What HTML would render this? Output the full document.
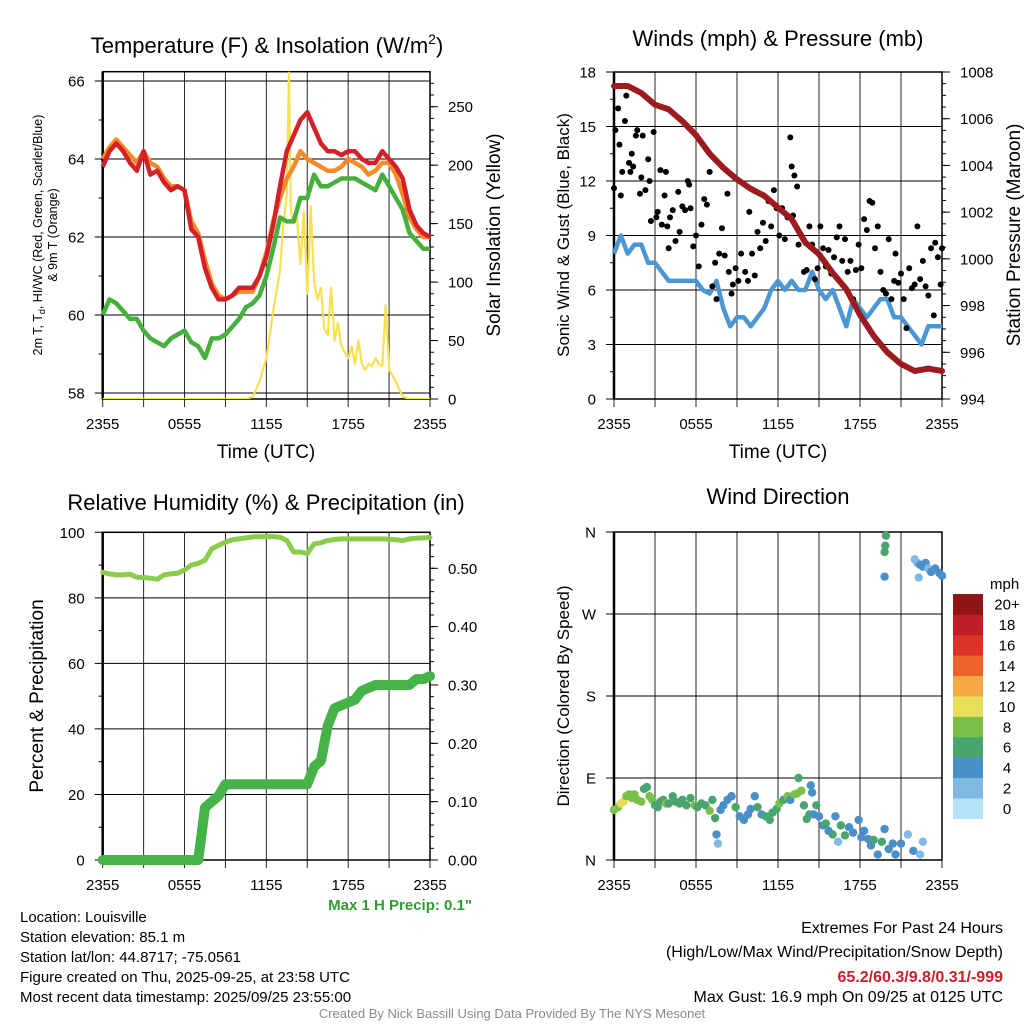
<!DOCTYPE html>
<html><head><meta charset="utf-8">
<style>
html,body{margin:0;padding:0;background:#fff;}
svg{display:block;font-family:"Liberation Sans",Arial,sans-serif;}
</style></head>
<body>
<svg id="chart" width="1024" height="1024" viewBox="0 0 1024 1024" xmlns="http://www.w3.org/2000/svg">
<rect x="0" y="0" width="1024" height="1024" fill="#fff"/>
<text x="267" y="53" font-size="22" text-anchor="middle">Temperature (F) &amp; Insolation (W/m<tspan font-size="14" dy="-9">2</tspan><tspan dy="9">)</tspan></text>
<text x="778" y="46" font-size="22" text-anchor="middle">Winds (mph) &amp; Pressure (mb)</text>
<text x="266" y="510" font-size="22" text-anchor="middle">Relative Humidity (%) &amp; Precipitation (in)</text>
<text x="778" y="504" font-size="22" text-anchor="middle">Wind Direction</text>

<text transform="translate(42,235) rotate(-90)" font-size="12.5" text-anchor="middle">2m T, T<tspan font-size="9" dy="3">d</tspan><tspan dy="-3">, HI/WC (Red, Green, Scarlet/Blue)</tspan></text>
<text transform="translate(57,235) rotate(-90)" font-size="12.5" text-anchor="middle">&amp; 9m T (Orange)</text>
<text transform="translate(500,235) rotate(-90)" font-size="19" text-anchor="middle">Solar Insolation (Yellow)</text>
<text transform="translate(569,235) rotate(-90)" font-size="17" text-anchor="middle">Sonic Wind &amp; Gust (Blue, Black)</text>
<text transform="translate(1020,235) rotate(-90)" font-size="19" text-anchor="middle">Station Pressure (Maroon)</text>
<text transform="translate(43,696) rotate(-90)" font-size="19" text-anchor="middle">Percent &amp; Precipitation</text>
<text transform="translate(569,696) rotate(-90)" font-size="17" text-anchor="middle">Direction (Colored By Speed)</text>

<text x="266" y="458" font-size="19" text-anchor="middle">Time (UTC)</text>
<text x="778" y="458" font-size="19" text-anchor="middle">Time (UTC)</text>

<text x="472" y="910" font-size="15" font-weight="bold" fill="#2e9e2e" text-anchor="end">Max 1 H Precip: 0.1"</text>
<g font-size="15">
<text x="20" y="922">Location: Louisville</text>
<text x="20" y="942">Station elevation: 85.1 m</text>
<text x="20" y="962">Station lat/lon: 44.8717; -75.0561</text>
<text x="20" y="982">Figure created on Thu, 2025-09-25, at 23:58 UTC</text>
<text x="20" y="1002">Most recent data timestamp: 2025/09/25 23:55:00</text>
</g>
<g font-size="16" text-anchor="end">
<text x="1003" y="933">Extremes For Past 24 Hours</text>
<text x="1003" y="957">(High/Low/Max Wind/Precipitation/Snow Depth)</text>
<text x="1003" y="982" font-weight="bold" fill="#c8202a">65.2/60.3/9.8/0.31/-999</text>
<text x="1003" y="1002">Max Gust: 16.9 mph On 09/25 at 0125 UTC</text>
</g>
<text x="512" y="1018" font-size="13" fill="#8a8a8a" text-anchor="middle">Created By Nick Bassill Using Data Provided By The NYS Mesonet</text>
</svg>
<script>
// ---------- data ----------
const halfHours = [0,0.5,1,1.5,2,2.5,3,3.5,4,4.5,5,5.5,6,6.5,7,7.5,8,8.5,9,9.5,10,10.5,11,11.5,12,12.5,13,13.5,14,14.5,15,15.5,16,16.5,17,17.5,18,18.5,19,19.5,20,20.5,21,21.5,22,22.5,23,23.5,24];
const hours = [0,1,2,3,4,5,6,7,8,9,10,11,12,13,14,15,16,17,18,19,20,21,22,23,24];
const timeTickLabels = ["2355","0555","1155","1755","2355"];
const timeTickHours = [0,6,12,18,24];
const tempRed = [63.8,64.2,64.4,64.2,63.9,63.7,64.2,63.6,63.7,63.4,63.2,63.3,63.2,62.2,62.0,61.2,60.7,60.4,60.4,60.5,60.7,60.7,60.7,61.0,61.5,62.3,63.3,64.2,64.6,65.0,65.2,64.8,64.4,64.2,64.2,64.1,64.2,64.2,64.0,63.9,63.9,64.2,64.0,63.8,63.5,62.7,62.3,62.1,62.0];
const tempOrange = [64.0,64.3,64.5,64.3,64.1,63.9,64.2,63.9,63.8,63.5,63.3,63.3,63.2,62.4,62.1,61.4,60.8,60.5,60.4,60.5,60.6,60.6,60.6,61.0,61.6,62.4,63.0,63.5,63.8,64.2,64.0,63.9,63.8,63.7,63.7,63.8,64.0,63.9,63.8,63.6,63.7,63.9,63.9,63.6,63.1,62.5,62.2,62.0,62.0];
const tempGreen = [60.0,60.4,60.3,60.1,59.9,59.9,59.6,59.4,59.3,59.2,59.4,59.5,59.6,59.3,59.2,58.9,59.4,59.4,59.5,59.7,59.9,60.2,60.3,60.5,61.0,61.7,62.5,62.4,62.4,63.0,63.0,63.6,63.3,63.3,63.4,63.5,63.5,63.5,63.4,63.3,63.2,63.6,63.3,63.0,62.7,62.1,61.9,61.7,61.7];
const solarHours = [0,10.5,11,11.5,12,12.5,13,13.25,13.5,13.65,13.8,14,14.25,14.5,14.75,15,15.25,15.5,15.75,16,16.25,16.5,16.75,17,17.25,17.5,17.75,18,18.25,18.5,18.75,19,19.25,19.5,19.75,20,20.25,20.5,20.75,21,21.25,21.5,21.75,22,22.5,23,24];
const solarValues = [0,0,2,15,35,75,110,150,175,280,160,150,155,115,160,90,165,100,85,95,60,55,95,50,65,45,40,35,45,30,50,30,25,30,28,35,30,28,80,25,20,15,8,2,0,0,0];
const windSpeed = [8,9,8,8.5,8.5,7.5,7.5,7,6.5,6.5,6.5,6.5,6.5,6,5.8,6.5,5,4,4.5,4.5,4,4.5,5,6,6.5,6,6.5,6,6,7,6,5.5,6,5,4,5.5,5,4.5,5,5.5,5.5,4.5,4.5,4,3.5,3,4,4,4];
const gustHours = [0,0.1,0.3,0.4,0.6,0.5,0.8,0.9,1.1,1.2,1.3,1.4,1.6,1.7,1.9,2.0,2.1,2.3,2.5,2.6,2.7,2.9,3.1,3.2,3.4,3.5,3.7,3.8,3.9,4.1,4.0,4.3,4.5,4.7,4.8,5.0,5.2,5.4,5.5,5.6,5.8,6.0,6.2,6.4,6.6,6.8,7.0,7.2,7.4,7.5,7.7,7.9,8.1,8.3,8.4,8.6,8.7,8.9,9.1,9.3,9.6,9.8,9.9,10.1,10.3,10.5,10.7,10.9,11.1,11.3,11.5,11.7,11.9,12.1,12.3,12.5,12.7,12.9,13.0,13.2,13.4,13.1,13.5,13.7,13.9,14.1,14.3,14.5,14.7,14.9,15.1,15.3,15.5,15.7,15.9,16.1,16.3,16.5,16.7,16.9,17.1,17.3,17.5,17.7,17.9,18.1,18.3,18.5,18.7,18.9,19.1,19.3,19.5,19.7,19.9,20.1,20.3,20.5,20.6,20.8,21.0,21.2,21.4,21.6,21.8,22,22.2,22.4,22.6,22.8,23,23.2,23.4,23.5,23.7,23.9,24];
const gustValues = [11.6,14.8,16,14,12.5,11.2,15.3,16.7,13,12.5,13.5,12.8,14.5,14.8,11.3,12.2,14.5,11.5,13.2,12,9.8,14.7,10,10.3,12.6,9.6,11.2,12.5,9.5,10,8.3,10.4,8.7,11.4,9.2,10.6,10.4,12,11.8,10.5,8.4,9,7.3,9.6,11,10.7,12.5,6.2,7.5,5.5,8,9.4,7.9,11.3,7,5.8,6.3,7.2,6.5,8,7,6.5,10.3,8,6.8,9.2,8.3,9.7,8.7,10.9,9.5,11.5,10.5,9,10.5,8.8,10,14.4,12.8,12.3,11.7,10.1,8.5,9,7,7.1,9.5,8.5,6.6,7.2,9.5,8.3,7.3,8.2,6.9,7.8,8.9,9.5,7.6,8.8,7,7.6,5.5,7.1,8.5,7.2,9.9,9.3,10.9,10.8,8.3,9.5,7,6,5.8,8.8,5.5,6.5,8,6.4,6.9,5.5,3.9,7.2,6.1,6.3,9.5,6.6,7.6,6.2,5.7,8.3,4.6,8.6,7.8,6.3,8.3];
const pressure = [1007.4,1007.4,1007.1,1006.6,1006.4,1005.9,1005.3,1004.5,1003.9,1003.4,1003.0,1002.7,1002.2,1001.7,1000.7,1000.2,999.4,998.7,997.6,996.7,996.0,995.5,995.2,995.3,995.2];
const relHum = [87.8,87.3,87,87,87.2,86.3,86.2,86,85.7,87,87.3,87.5,88.5,90,90.5,91.5,95,96,97,97.7,98,98.3,98.6,98.7,98.7,98.7,98.5,97.5,94,94,93.5,96.5,96.8,97.5,97.8,98,98,98,98,98,98,98,97.9,97.7,97.5,98,98.2,98.3,98.4];
const precip = [0,0,0,0,0,0,0,0,0,0,0,0,0,0,0,0.09,0.10,0.11,0.13,0.13,0.13,0.13,0.13,0.13,0.13,0.13,0.13,0.13,0.13,0.13,0.13,0.16,0.17,0.23,0.26,0.265,0.27,0.275,0.29,0.295,0.30,0.30,0.30,0.30,0.30,0.30,0.31,0.31,0.315];
const dirHours = [0,0.3,0.5,0.7,0.9,1.1,1.3,1.5,1.7,2,2.2,2.4,2.6,2.8,3.0,3.2,3.4,3.6,3.8,4.0,4.3,4.5,4.8,5.0,5.3,5.6,5.9,6.1,6.4,6.7,7.0,7.2,7.4,7.5,7.6,7.8,8,8.3,8.6,8.9,9.2,9.5,9.8,10.0,10.3,10.5,10.8,11.1,11.4,11.6,11.9,12.1,12.4,12.7,12.9,13.2,13.4,13.5,13.7,13.9,14.1,14.3,14.4,14.5,14.6,14.8,15.0,15.3,15.5,15.7,16.0,16.2,16.4,16.6,16.9,17.2,17.5,17.9,18.1,18.3,18.6,18.8,19.0,19.3,19.6,19.8,20.1,20.4,20.6,21.0,21.5,21.9,22.4,19.8,19.85,19.9,19.8,22.2,22.4,22.6,22.8,23.0,23.2,23.5,23.8,24,22.0,22.3,22.6];
const dirDegrees = [55,58,62,64,70,72,68,72,66,64,78,80,70,66,60,58,64,66,62,62,70,64,62,66,60,68,60,58,62,60,54,66,46,28,18,55,60,66,70,58,48,44,50,56,70,58,50,48,44,52,56,62,66,70,66,72,73,90,76,60,45,50,82,74,50,60,48,38,40,32,28,48,20,38,27,36,30,44,25,32,23,16,22,6,20,34,12,18,6,18,28,10,6,338,345,356,311,326,324,322,326,320,316,320,315,312,330,310,20];
const dirSpeeds = [7,8,9,10,8,8,7,8,8,7,6,6,8,7,6,6,6,6,7,6,6,6,6,6,6,6,7,6,6,6,8,6,6,4,2,4,4,4,4,5,4,4,4,4,4,6,4,6,6,6,6,7,6,7,4,8,8,6,8,6,6,6,4,4,4,6,4,4,6,4,6,4,2,6,6,4,4,4,4,4,4,4,6,4,6,4,4,4,4,4,2,4,2,6,6,6,4,2,4,4,4,2,4,4,4,4,2,2,2];
const legendLabels = ["0","2","4","6","8","10","12","14","16","18","20+"];
const legendColors = ["#b5e3f8","#80bae4","#4a8fc7","#49a56e","#7cbf48","#e6df57","#f5a843","#ee6129","#dc3328","#be1e25","#8f1519"];

// ---------- helpers ----------
const NS = "http://www.w3.org/2000/svg";
const svg = document.getElementById("chart");
function mk(tag, attrs, parent) {
  const e = document.createElementNS(NS, tag);
  for (const k in attrs) e.setAttribute(k, attrs[k]);
  (parent || svg).appendChild(e);
  return e;
}
function linScale(d0, d1, r0, r1) { return v => r0 + (v - d0) * (r1 - r0) / (d1 - d0); }

const P1 = {x0:102.7, x1:430, top:71.7, bot:399};
const P2 = {x0:614, x1:942, top:72, bot:399};
const P3 = {x0:102.7, x1:430, top:532.3, bot:860};
const P4 = {x0:614, x1:942, top:532, bot:860};

function buildFrame(P, name, yTicks, yScale, yLabels, minorLeft, rTicks, rScale, rLabels, minorRight) {
  const g = mk("g", {});
  
  
  const xs = linScale(0, 24, P.x0, P.x1);
  for (let h = 0; h <= 24; h += 3) {
    const x = xs(h);
    const gl = mk("line", {x1:x, x2:x, y1:P.top, y2:P.bot + 8, stroke:"#000", "stroke-width":1, "stroke-opacity":0.85}, g);
    
    
  }
  for (let i = 0; i < timeTickHours.length; i++) {
    const t = mk("text", {x:xs(timeTickHours[i]), y:P.bot + 30, "font-size":15, "text-anchor":"middle"}, g);
    t.textContent = timeTickLabels[i];
    
    
  }
  for (let i = 0; i < yTicks.length; i++) {
    const y = yScale(yTicks[i]);
    const l = mk("line", {x1:P.x0 - 8, x2:P.x1, y1:y, y2:y, stroke:"#000", "stroke-width":1}, g);
    
    
    const t = mk("text", {x:P.x0 - 18, y:y + 5.5, "font-size":15, "text-anchor":"end"}, g);
    t.textContent = yLabels[i];
    
    
  }
  for (const v of minorLeft) {
    const y = yScale(v);
    const m = mk("line", {x1:P.x0 - 4, x2:P.x0, y1:y, y2:y, stroke:"#000", "stroke-width":1}, g);
    
    
  }
  if (rTicks) {
    for (let i = 0; i < rTicks.length; i++) {
      const y = rScale(rTicks[i]);
      const l = mk("line", {x1:P.x1, x2:P.x1 + 8, y1:y, y2:y, stroke:"#000", "stroke-width":1}, g);
      
      
      const t = mk("text", {x:P.x1 + 18, y:y + 5.5, "font-size":15}, g);
      t.textContent = rLabels[i];
      
      
    }
    for (const v of minorRight) {
      const y = rScale(v);
      const m = mk("line", {x1:P.x1, x2:P.x1 + 4, y1:y, y2:y, stroke:"#000", "stroke-width":1}, g);
      
      
    }
  }
  const fr = mk("rect", {x:P.x0, y:P.top, width:P.x1 - P.x0, height:P.bot - P.top, fill:"none", stroke:"#000", "stroke-width":1.5}, g);
  
  
  const la = mk("line", {x1:P.x0, x2:P.x0, y1:P.top, y2:P.bot, stroke:"#000", "stroke-width":2.5}, g);
  
  
  return xs;
}
function pathFrom(xsArr, ysArr, xs, ys) {
  let d = "";
  for (let i = 0; i < xsArr.length; i++) d += (i ? "L" : "M") + xs(xsArr[i]).toFixed(1) + "," + ys(ysArr[i]).toFixed(1);
  return d;
}
function range(a, b, s) { const r = []; for (let v = a; v <= b + 1e-9; v += s) r.push(+v.toFixed(4)); return r; }

// ---------- panel 1: temperature ----------
const t1 = linScale(58, 66, 393, 81);
const s1 = linScale(0, 250, 399, 106.7);
const xs1 = buildFrame(P1, "temperature", [58,60,62,64,66], t1, ["58","60","62","64","66"], [59,61,63,65],
  [0,50,100,150,200,250], s1, ["0","50","100","150","200","250"], range(10,270,10));
const clip1 = mk("clipPath", {id:"c1"}); mk("rect", {x:P1.x0, y:P1.top, width:P1.x1-P1.x0, height:P1.bot-P1.top}, clip1);
const solarLine = mk("path", {d:pathFrom(solarHours, solarValues, xs1, s1), fill:"none", stroke:"#f7e151", "stroke-width":2.2, "stroke-linejoin":"round", "clip-path":"url(#c1)"});


const greenLine = mk("path", {d:pathFrom(halfHours, tempGreen, xs1, t1), fill:"none", stroke:"#45b03e", "stroke-width":4.5, "stroke-linejoin":"round"});


const orangeLine = mk("path", {d:pathFrom(halfHours, tempOrange, xs1, t1), fill:"none", stroke:"#f58a2c", "stroke-width":4.5, "stroke-linejoin":"round"});


const redLine = mk("path", {d:pathFrom(halfHours, tempRed, xs1, t1), fill:"none", stroke:"#d42027", "stroke-width":4.5, "stroke-linejoin":"round"});



// ---------- panel 2: winds ----------
const w2 = linScale(0, 18, 399, 72);
const p2 = linScale(994, 1008, 399, 72);
const xs2 = buildFrame(P2, "winds", [0,3,6,9,12,15,18], w2, ["0","3","6","9","12","15","18"], [1.5,4.5,7.5,10.5,13.5,16.5],
  [994,996,998,1000,1002,1004,1006,1008], p2, ["994","996","998","1000","1002","1004","1006","1008"], range(994.5,1007.5,0.5));
const windLine = mk("path", {d:pathFrom(halfHours, windSpeed, xs2, w2), fill:"none", stroke:"#4b97d3", "stroke-width":4.5, "stroke-linejoin":"round"});


for (let i = 0; i < gustHours.length; i++) {
  const c = mk("circle", {cx:xs2(gustHours[i]), cy:w2(gustValues[i]), r:3, fill:"#000"});
  
  
}
const presLine = mk("path", {d:pathFrom(hours, pressure, xs2, p2), fill:"none", stroke:"#9b1b1e", "stroke-width":6, "stroke-linejoin":"round", "stroke-linecap":"round"});



// ---------- panel 3: humidity & precip ----------
const h3 = linScale(0, 100, 860, 532.3);
const r3 = linScale(0, 0.5, 860, 568.3);
const xs3 = buildFrame(P3, "humidity", [0,20,40,60,80,100], h3, ["0","20","40","60","80","100"], [10,30,50,70,90],
  [0,0.1,0.2,0.3,0.4,0.5], r3, ["0.00","0.10","0.20","0.30","0.40","0.50"], range(0.02,0.54,0.02));
const rhLine = mk("path", {d:pathFrom(halfHours, relHum, xs3, h3), fill:"none", stroke:"#8ccc4c", "stroke-width":5, "stroke-linejoin":"round", "stroke-linecap":"round"});


const precipLine = mk("path", {d:pathFrom(halfHours, precip, xs3, r3), fill:"none", stroke:"#46b348", "stroke-width":10, "stroke-linejoin":"round", "stroke-linecap":"round"});



// ---------- panel 4: wind direction ----------
const d4 = linScale(0, 360, 860, 532);
const xs4 = buildFrame(P4, "direction", [0,90,180,270,360], d4, ["N","E","S","W","N"], [], null, null, null, null);
function speedColor(s) { return legendColors[Math.min(10, Math.max(0, Math.round(s / 2)))]; }
for (let i = 0; i < dirHours.length; i++) {
  const c = mk("circle", {cx:xs4(dirHours[i]), cy:d4(dirDegrees[i]), r:4.2, fill:speedColor(dirSpeeds[i])});
  
  
}
const lg = mk("g", {});


const lt = mk("text", {x:990, y:589, "font-size":15}, lg);
lt.textContent = "mph";


const binH = (818.7 - 594) / legendLabels.length;
for (let i = 0; i < legendLabels.length; i++) {
  const y = 818.7 - (i + 1) * binH;
  const r = mk("rect", {x:953, y:y, width:30, height:binH + 0.3, fill:legendColors[i]}, lg);
  
  
  const t = mk("text", {x:1007, y:y + binH / 2 + 5.5, "font-size":15, "text-anchor":"middle"}, lg);
  t.textContent = legendLabels[i];
  
  
}
</script>
</body></html>
